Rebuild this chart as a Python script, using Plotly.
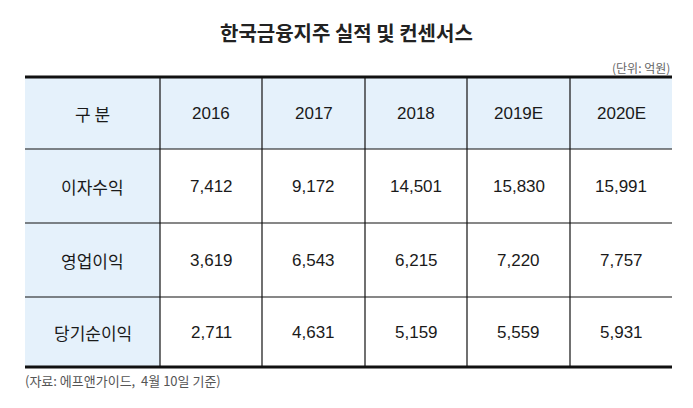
import plotly.graph_objects as go

title = "한국금융지주 실적 및 컨센서스"
unit = "(단위: 억원)"
source = "(자료: 에프앤가이드,  4월 10일 기준)"
header = ["구 분", "2016", "2017", "2018", "2019E", "2020E"]
rows = ["이자수익", "영업이익", "당기순이익"]
interest = ["7,412", "9,172", "14,501", "15,830", "15,991"]
operating = ["3,619", "6,543", "6,215", "7,220", "7,757"]
net = ["2,711", "4,631", "5,159", "5,559", "5,931"]
values = [interest, operating, net]

W, H = 693, 408
OFF = 8  # page body margin
col_x = [25, 160, 262, 365, 467, 570, 672]
row_y = [77, 149, 223, 297, 367]
fill = "#e5f1fb"
kfont = "Noto Sans CJK KR"
nfont = "Liberation Sans"

fig = go.Figure()
shapes, ann = [], []
shapes.append(dict(type="rect", x0=col_x[0], x1=col_x[-1], y0=row_y[0], y1=row_y[1], fillcolor=fill, line_width=0, layer="below"))
shapes.append(dict(type="rect", x0=col_x[0], x1=col_x[1], y0=row_y[1], y1=row_y[-1], fillcolor=fill, line_width=0, layer="below"))
for i, y in enumerate(row_y):
    w = 3 if i in (0, len(row_y) - 1) else 1.2
    shapes.append(dict(type="line", x0=col_x[0], x1=col_x[-1], y0=y, y1=y, line=dict(color="#111", width=w)))
for x in col_x[1:-1]:
    shapes.append(dict(type="line", x0=x, x1=x, y0=row_y[0], y1=row_y[-1], line=dict(color="#111", width=1.2)))

def cell(ci, ri, text, font, size):
    ann.append(dict(x=(col_x[ci] + col_x[ci + 1]) / 2, y=(row_y[ri] + row_y[ri + 1]) / 2, text=text,
                    showarrow=False, font=dict(family=font, size=size, color="#1a1a1a"), xanchor="center", yanchor="middle"))

for ci, h in enumerate(header):
    cell(ci, 0, h, kfont if ci == 0 else nfont, 17)
for ri, (name, vals) in enumerate(zip(rows, values)):
    cell(0, ri + 1, name, kfont, 17)
    for ci, v in enumerate(vals):
        cell(ci + 1, ri + 1, v, nfont, 17)

ann.append(dict(x=W / 2, y=32, text="<b>" + title + "</b>", showarrow=False, font=dict(family=kfont, size=20, color="#222")))
ann.append(dict(x=col_x[-1], y=67, text=unit, showarrow=False, xanchor="right", font=dict(family=kfont, size=12, color="#666")))
ann.append(dict(x=col_x[0] - 2, y=380, text=source, showarrow=False, xanchor="left", font=dict(family=kfont, size=13, color="#555")))

fig.update_layout(width=W, height=H, margin=dict(l=0, r=0, t=0, b=0), paper_bgcolor="white", plot_bgcolor="white",
                  shapes=shapes, annotations=ann,
                  xaxis=dict(range=[OFF, W + OFF], visible=False, fixedrange=True),
                  yaxis=dict(range=[H + OFF, OFF], visible=False, fixedrange=True), showlegend=False)
fig.write_html("out.html", config={"displayModeBar": False})
